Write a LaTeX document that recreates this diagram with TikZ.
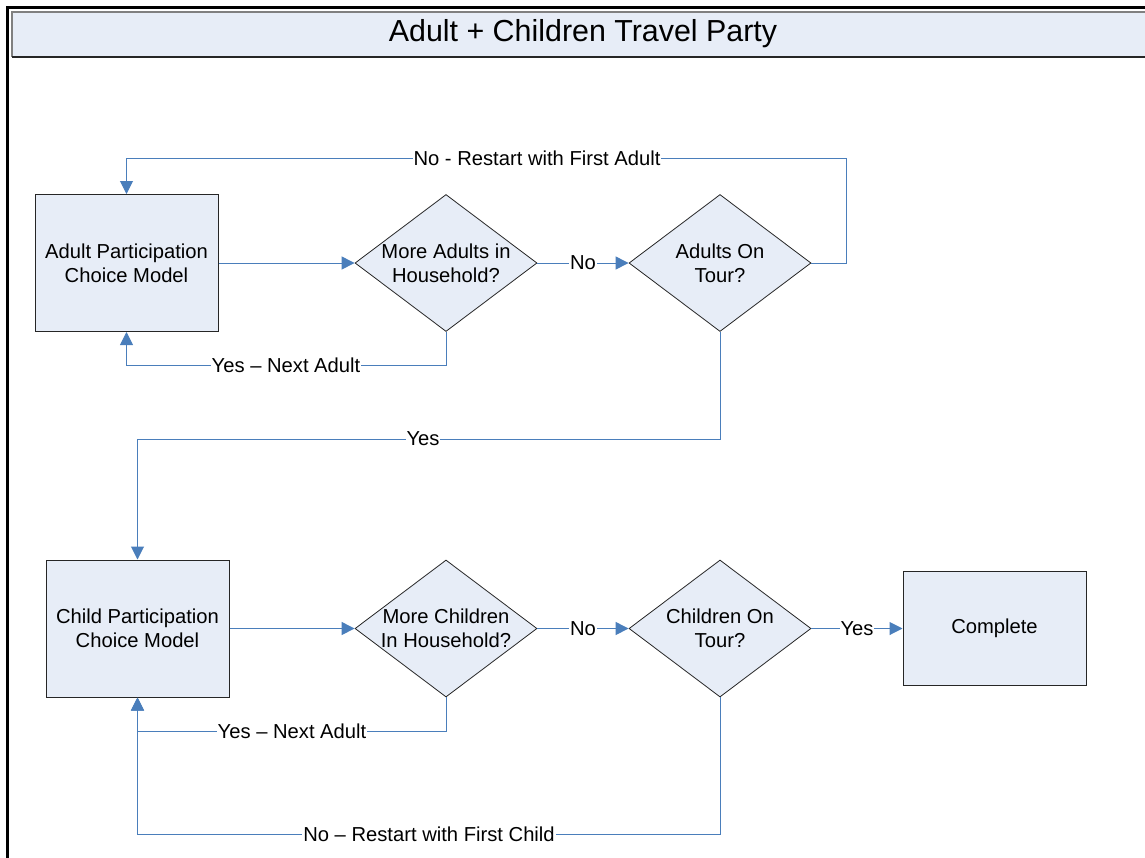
\documentclass[tikz,border=0pt]{standalone}
\usepackage{fontspec}
\setmainfont{Liberation Sans}
\usetikzlibrary{shapes.geometric,arrows.meta}
\definecolor{lineblue}{HTML}{4A7EBB}
\definecolor{boxfill}{HTML}{E7EDF7}
\definecolor{boxdraw}{HTML}{262626}
\tikzset{
  every node/.style={font=\fontsize{20.2}{24}\selectfont},
  procbox/.style={draw=boxdraw, fill=boxfill, line width=1pt, minimum width=183pt, minimum height=137pt, align=center, inner sep=0pt},
  dia/.style={diamond, draw=boxdraw, fill=boxfill, line width=0.8pt, minimum width=182pt, minimum height=137pt, inner sep=0pt},
  diatext/.style={align=center, inner sep=0pt},
  conn/.style={draw=lineblue, line width=1pt, -{Triangle[length=13pt,width=13pt]}},
  lbl/.style={fill=white, inner sep=1pt}
}
\begin{document}
\begin{tikzpicture}[x=1pt,y=-1pt]
\useasboundingbox (0,0) rectangle (1145,857);
% outer frame
\draw[line width=3pt, black] (7.5,870) -- (7.5,7.5) -- (1160,7.5);
% title bar
\path[fill=boxfill] (12,12) rectangle (1160,57);
\draw[line width=1.5pt, gray] (1160,12) -- (12,12) -- (12,57);
\draw[line width=1.2pt, boxdraw] (12,57) -- (1160,57);
\node (title) at (583,34) {\fontsize{30.4}{36}\selectfont Adult + Children Travel Party};
% nodes
\node[procbox] (a1) at (126.5,263) {Adult Participation\\Choice Model};
\node[dia] (d1) at (446,263) {};
\node[diatext] (d1t) at (d1.center) {More Adults in\\Household?};
\node[dia] (d2) at (720,263) {};
\node[diatext] (d2t) at (d2.center) {Adults On\\Tour?};
\node[procbox] (c1) at (137.5,628.5) {Child Participation\\Choice Model};
\node[dia] (d3) at (446,628.5) {};
\node[diatext] (d3t) at (d3.center) {More Children\\In Household?};
\node[dia] (d4) at (720,628.5) {};
\node[diatext] (d4t) at (d4.center) {Children On\\Tour?};
\node[procbox, minimum height=114pt] (done) at (994.5,628.5) {Complete};
% connectors
\draw[conn] (a1.east) -- (d1.west);
\draw[conn] (d1.east) -- (d2.west);
\draw[conn] (d2.east) -| (846,158) -| (a1.north);
\draw[conn] (d1.south) |- (126.5,365) -- (a1.south);
\draw[conn] (d2.south) |- (137.5,439) -- (c1.north);
\draw[conn] (c1.east) -- (d3.west);
\draw[conn] (d3.east) -- (d4.west);
\draw[conn] (d4.east) -- (done.west);
\draw[conn] (d3.south) |- (137.5,731) -- (c1.south);
\draw[conn] (d4.south) |- (137.5,834) -- (c1.south);
% labels
\node[lbl] (l1) at (537,158) {No - Restart with First Adult};
\node[lbl] (l2) at (286,365) {Yes – Next Adult};
\node[lbl] (l3) at (583,263) {No};
\node[lbl] (l4) at (423,439) {Yes};
\node[lbl] (l5) at (292,731) {Yes – Next Adult};
\node[lbl] (l6) at (429,834) {No – Restart with First Child};
\node[lbl] (l7) at (583,628.5) {No};
\node[lbl] (l8) at (857,628.5) {Yes};
\end{tikzpicture}
\end{document}
